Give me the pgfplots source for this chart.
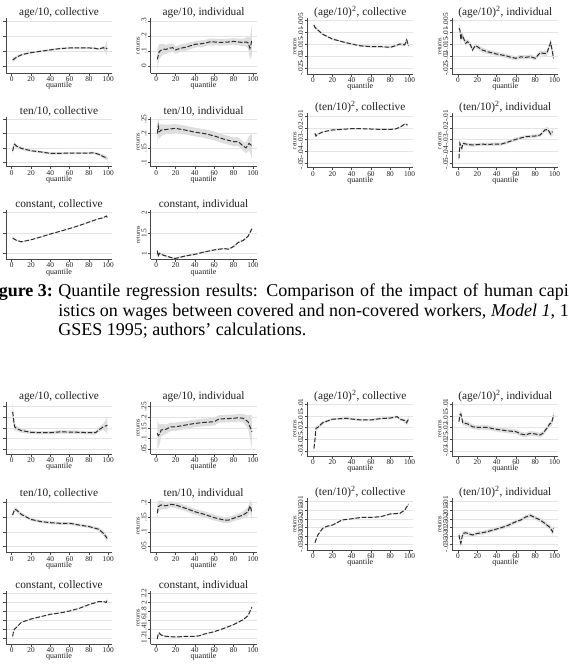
\documentclass[border=0pt]{standalone}
\usepackage{fontspec}
\setmainfont{Liberation Serif}
\usepackage{pgfplots}
\usepackage{pgfplotstable}
\pgfplotsset{compat=1.18}
\usepgfplotslibrary{fillbetween}
\definecolor{axcol}{RGB}{70,70,70}
\definecolor{gridcol}{RGB}{228,228,228}
\definecolor{cicol}{RGB}{222,222,222}
\definecolor{lncol}{RGB}{45,45,45}
\definecolor{txtcol}{RGB}{30,30,30}

\pgfplotstableread{
q y w
1 .040 .015
2 .044 .013
5 .058 .01
10 .074 .008
15 .082 .007
20 .089 .007
30 .098 .006
40 .107 .006
50 .116 .006
60 .120 .006
70 .120 .006
80 .120 .006
85 .119 .006
90 .113 .007
95 .122 .01
97 .113 .02
98 .118 .05
99 .116 .02
}\Aone
\pgfplotstableread{
q y w
1 .044 .07
2 .070 .06
3 .095 .05
5 .105 .04
8 .112 .035
10 .110 .03
13 .118 .03
17 .122 .028
20 .107 .025
25 .118 .025
30 .124 .025
40 .144 .022
50 .151 .022
55 .160 .022
60 .160 .022
65 .158 .022
70 .158 .022
75 .160 .022
80 .164 .022
85 .160 .022
90 .156 .025
93 .160 .03
95 .155 .04
97 .118 .07
98 .140 .09
99 .178 .1
}\Atwo
\pgfplotstableread{
q y w
1 -.0068 .0008
2 -.0078 .0006
5 -.0089 .0005
10 -.0107 .0004
20 -.0127 .0004
30 -.0138 .0004
40 -.0148 .0004
50 -.0156 .0004
60 -.0159 .0004
70 -.0159 .0004
80 -.0162 .0004
85 -.0156 .0005
90 -.0148 .0005
95 -.0152 .0007
97 -.0131 .001
99 -.0156 .001
}\Athree
\pgfplotstableread{
q y w
1 -.0082 .002
2 -.0089 .002
3 -.0131 .0018
4 -.0110 .0015
5 -.0117 .0013
8 -.0145 .0012
10 -.0138 .0011
13 -.0152 .001
15 -.0173 .001
18 -.0155 .001
20 -.0159 .001
25 -.0173 .001
30 -.0180 .0009
40 -.0190 .0009
50 -.0198 .0009
55 -.0204 .0009
60 -.0208 .0009
65 -.0202 .0009
70 -.0204 .0009
75 -.0201 .0009
80 -.0208 .0009
85 -.0185 .001
88 -.0187 .001
92 -.0187 .0012
96 -.0142 .0015
99 -.0208 .002
}\Afour
\pgfplotstableread{
q y w
1 .140 .012
2 .155 .01
3 .163 .008
5 .157 .006
10 .149 .005
20 .141 .004
30 .137 .004
40 .132 .004
50 .132 .004
60 .133 .004
70 .133 .004
80 .133 .004
85 .134 .004
90 .129 .005
95 .121 .006
99 .115 .008
}\Tone
\pgfplotstableread{
q y w
1 .200 .035
2 .226 .03
3 .206 .025
5 .212 .02
10 .214 .016
20 .218 .015
30 .212 .015
40 .205 .015
50 .200 .015
60 .192 .015
70 .181 .015
80 .172 .015
85 .172 .015
90 .157 .016
93 .151 .018
96 .166 .025
98 .161 .035
99 .158 .045
}\Ttwo
\pgfplotstableread{
q y w
2 -.0246 .0012
3 -.0269 .001
5 -.0255 .0008
10 -.0235 .0006
20 -.0218 .0005
30 -.0213 .0005
40 -.0207 .0005
50 -.0207 .0005
60 -.0210 .0005
70 -.0213 .0005
80 -.0213 .0005
85 -.0210 .0005
90 -.0196 .0006
95 -.0168 .0008
98 -.0176 .001
}\Tthree
\pgfplotstableread{
q y w
1 -.0458 .004
2 -.0331 .003
3 -.0359 .0025
4 -.0373 .002
5 -.0331 .0018
10 -.0340 .0015
15 -.0345 .0014
20 -.0342 .0014
25 -.0338 .0014
30 -.0340 .0014
40 -.0337 .0014
45 -.0337 .0014
50 -.0325 .0014
60 -.0297 .0014
70 -.0275 .0014
80 -.0269 .0014
85 -.0261 .0015
90 -.0218 .0017
93 -.0213 .002
96 -.0252 .0025
98 -.0232 .003
}\Tfour
\pgfplotstableread{
q y w
1 1.375 .02
5 1.317 .015
10 1.283 .012
20 1.333 .01
30 1.400 .01
40 1.475 .01
50 1.540 .01
60 1.610 .01
70 1.683 .01
80 1.767 .01
90 1.850 .012
95 1.875 .015
98 1.917 .02
99 1.883 .025
}\Kone
\pgfplotstableread{
q y w
1 1.067 .05
2 .917 .04
3 1.000 .035
5 .975 .03
10 .933 .025
18 .875 .02
20 .875 .02
30 .933 .02
40 .975 .02
50 1.033 .02
60 1.083 .02
70 1.117 .02
75 1.100 .02
80 1.167 .02
85 1.267 .022
90 1.317 .025
95 1.417 .03
99 1.600 .04
}\Ktwo
\pgfplotstableread{
q y w
1 .226 .05
2 .187 .03
3 .155 .02
5 .147 .012
10 .137 .01
20 .129 .008
30 .127 .008
40 .127 .008
50 .131 .008
60 .130 .008
70 .129 .008
80 .127 .008
87 .127 .009
90 .140 .01
95 .155 .015
98 .160 .03
99 .163 .04
}\Bone
\pgfplotstableread{
q y w
1 .124 .07
2 .113 .06
4 .124 .04
5 .140 .03
10 .143 .022
15 .155 .02
20 .155 .02
30 .163 .018
40 .171 .018
50 .176 .018
60 .179 .018
65 .192 .018
70 .193 .018
80 .195 .018
85 .198 .018
90 .195 .02
95 .179 .03
99 .132 .08
}\Btwo
\pgfplotstableread{
q y w
1 -.0289 .002
2 -.0253 .0015
3 -.0203 .001
5 -.0199 .0008
10 -.0179 .0006
20 -.0164 .0005
30 -.0161 .0005
35 -.0160 .0005
40 -.0163 .0005
50 -.0167 .0005
60 -.0167 .0005
70 -.0161 .0005
80 -.0159 .0005
87 -.0153 .0005
90 -.0163 .0006
95 -.0170 .0008
97 -.0179 .001
99 -.0163 .0012
}\Bthree
\pgfplotstableread{
q y w
1 -.0174 .0015
2 -.0146 .0014
3 -.0141 .0013
5 -.0179 .0011
10 -.0184 .001
15 -.0196 .001
20 -.0199 .001
30 -.0199 .001
40 -.0207 .001
50 -.0213 .001
60 -.0217 .001
65 -.0227 .001
70 -.0231 .001
75 -.0224 .001
80 -.0227 .001
85 -.0231 .001
88 -.0224 .001
92 -.0203 .0011
95 -.0184 .0012
97 -.0179 .0014
99 -.0146 .0018
}\Bfour
\pgfplotstableread{
q y w
1 .157 .01
3 .176 .008
5 .174 .007
10 .159 .006
20 .142 .005
30 .135 .005
40 .131 .005
50 .129 .005
60 .129 .005
70 .123 .005
80 .118 .005
90 .109 .006
95 .095 .008
99 .078 .012
}\Done
\pgfplotstableread{
q y w
1 .163 .03
2 .185 .02
5 .191 .015
10 .188 .012
15 .193 .01
20 .191 .01
30 .180 .01
40 .168 .01
50 .159 .01
60 .148 .01
70 .140 .01
75 .140 .01
80 .146 .01
90 .157 .012
95 .168 .015
97 .188 .02
99 .168 .03
}\Dtwo
\pgfplotstableread{
q y w
2 -.0340 .0006
5 -.0295 .0005
10 -.0256 .0004
15 -.0243 .0004
20 -.0237 .0004
25 -.0223 .0004
30 -.0207 .0004
40 -.0200 .0004
50 -.0192 .0004
60 -.0192 .0004
70 -.0188 .0004
80 -.0172 .0004
90 -.0168 .0004
95 -.0149 .0005
99 -.0114 .0007
}\Dthree
\pgfplotstableread{
q y w
1 -.0295 .003
2 -.0325 .0025
3 -.0344 .002
5 -.0286 .0015
8 -.0282 .0013
10 -.0286 .0012
15 -.0295 .0011
20 -.0286 .0011
25 -.0282 .0011
30 -.0276 .0011
40 -.0260 .0011
50 -.0243 .0011
60 -.0217 .0011
65 -.0207 .0011
70 -.0190 .0011
75 -.0180 .0012
80 -.0194 .0012
85 -.0207 .0012
90 -.0227 .0013
95 -.0250 .0015
98 -.0276 .002
99 -.0256 .0025
}\Dfour
\pgfplotstableread{
q y w
1 1.251 .03
2 1.376 .025
3 1.413 .02
5 1.450 .015
10 1.560 .012
20 1.634 .01
30 1.685 .01
40 1.737 .01
50 1.766 .01
60 1.810 .01
70 1.869 .01
80 1.950 .01
90 2.016 .012
95 2.016 .015
98 2.000 .02
99 2.075 .03
}\Eone
\pgfplotstableread{
q y w
1 1.193 .04
2 1.303 .03
3 1.325 .025
5 1.281 .02
10 1.251 .015
20 1.237 .012
30 1.251 .012
40 1.251 .012
45 1.266 .012
50 1.303 .012
60 1.354 .012
70 1.428 .012
80 1.509 .014
90 1.619 .016
95 1.707 .02
99 1.891 .03
}\Etwo

\newcommand{\ciplot}[2]{%
  \addplot[draw=none, name path=u#2, forget plot] table[x=q, y expr=\thisrow{y}+\thisrow{w}] {#1};
  \addplot[draw=none, name path=l#2, forget plot] table[x=q, y expr=\thisrow{y}-\thisrow{w}] {#1};
  \addplot[fill=cicol, draw=none, forget plot] fill between[of=u#2 and l#2];
  \addplot[lncol, line width=0.75pt, dash pattern=on 3.4pt off 1.4pt] table[x=q, y=y] {#1};
}

\pgfplotsset{
  every axis title shift=0pt,
  panel/.style={
    scale only axis, width=79.65pt, anchor=north west,
    xmin=-6, xmax=104,
    axis lines=left,
    axis line style={-, draw=axcol, line width=0.45pt},
    xtick={0,20,40,60,80,100}, xticklabels={0,20,40,60,80,100},
    scaled y ticks=false, scaled x ticks=false,
    tick align=outside, major tick length=2pt,
    tick style={draw=axcol, line width=0.4pt},
    ymajorgrids, grid style={gridcol, line width=0.4pt},
    ticklabel style={font=\fontsize{5.5}{6}\selectfont, text=txtcol},
    xticklabel style={inner sep=0.6pt},
    yticklabel style={rotate=90, anchor=south, inner sep=0.8pt},
    xlabel={quantile},
    xlabel style={font=\fontsize{6}{6.5}\selectfont, text=txtcol, inner sep=0pt, yshift=0.3pt},
    ylabel={returns},
    ylabel style={font=\fontsize{4.6}{5}\selectfont, text=txtcol, inner sep=0.3pt},
    title style={font=\fontsize{8.5}{9}\selectfont, text=txtcol, inner sep=0pt,
                 at={(0.5,1)}, anchor=base, yshift=2pt},
  },
  leftpanel/.style={panel, yticklabels={}, ylabel={}},
}

\begin{document}
\begin{tikzpicture}

% ---------------- Top group ----------------
% Row 1
\begin{axis}[leftpanel, at={(4.425pt,487.5pt)}, height=41.25pt,
  ymin=-0.047, ymax=0.32, ytick={0,0.1,0.2,0.3},
  title={age/10, collective}]
\ciplot{\Aone}{a1}
\end{axis}
\begin{axis}[panel, at={(112.875pt,487.5pt)}, height=41.25pt,
  ymin=-0.047, ymax=0.32, ytick={0,0.1,0.2,0.3}, yticklabels={0,.1,.2,.3},
  title={age/10, individual}]
\ciplot{\Atwo}{a2}
\end{axis}
\begin{axis}[panel, at={(230.4pt,487.275pt)}, height=41.775pt,
  ymin=-0.0274, ymax=-0.004, ytick={-0.025,-0.02,-0.015,-0.01,-0.005},
  yticklabels={-.025,-.02,-.015,-.01,-.005},
  title={(age/10)\textsuperscript{2}, collective}]
\ciplot{\Athree}{a3}
\end{axis}
\begin{axis}[panel, at={(339.15pt,487.275pt)}, height=41.775pt,
  ymin=-0.0274, ymax=-0.004, ytick={-0.025,-0.02,-0.015,-0.01,-0.005},
  yticklabels={-.025,-.02,-.015,-.01,-.005},
  title={(age/10)\textsuperscript{2}, individual}]
\ciplot{\Afour}{a4}
\end{axis}
% Row 2
\begin{axis}[leftpanel, at={(4.425pt,413.475pt)}, height=37.5pt,
  ymin=0.0862, ymax=0.258, ytick={0.1,0.15,0.2,0.25},
  title={ten/10, collective}]
\ciplot{\Tone}{t1}
\end{axis}
\begin{axis}[panel, at={(112.875pt,413.475pt)}, height=37.5pt,
  ymin=0.0862, ymax=0.258, ytick={0.1,0.15,0.2,0.25}, yticklabels={.1,.15,.2,.25},
  title={ten/10, individual}]
\ciplot{\Ttwo}{t2}
\end{axis}
\begin{axis}[panel, at={(230.4pt,416.025pt)}, height=40.8pt,
  ymin=-0.0537, ymax=-0.0077, ytick={-0.05,-0.04,-0.03,-0.02,-0.01},
  yticklabels={-.05,-.04,-.03,-.02,-.01},
  title={(ten/10)\textsuperscript{2}, collective}]
\ciplot{\Tthree}{t3}
\end{axis}
\begin{axis}[panel, at={(339.15pt,416.025pt)}, height=40.8pt,
  ymin=-0.0537, ymax=-0.0077, ytick={-0.05,-0.04,-0.03,-0.02,-0.01},
  yticklabels={-.05,-.04,-.03,-.02,-.01},
  title={(ten/10)\textsuperscript{2}, individual}]
\ciplot{\Tfour}{t4}
\end{axis}
% Row 3
\begin{axis}[leftpanel, at={(4.425pt,343.5pt)}, height=36.975pt,
  ymin=0.852, ymax=2.066, ytick={1,1.5,2},
  title={constant, collective}]
\ciplot{\Kone}{k1}
\end{axis}
\begin{axis}[panel, at={(112.875pt,343.5pt)}, height=36.975pt,
  ymin=0.852, ymax=2.066, ytick={1,1.5,2}, yticklabels={1,1.5,2},
  title={constant, individual}]
\ciplot{\Ktwo}{k2}
\end{axis}

% ---------------- Caption ----------------
\node[anchor=base east, inner sep=0pt, font=\fontsize{13.5}{16}\selectfont] at (39.9pt,278.25pt) {\textbf{Figure 3:}};
\node[anchor=base west, inner sep=0pt, font=\fontsize{13.5}{16}\selectfont] at (43.5pt,278.25pt)
  {\makebox[383pt][s]{Quantile regression results: Comparison of the impact of human capi}};
\node[anchor=base west, inner sep=0pt, font=\fontsize{13.5}{16}\selectfont] at (43.5pt,263.625pt)
  {\makebox[383pt][s]{istics on wages between covered and non-covered workers, \textit{Model 1}, 1}};
\node[anchor=base west, inner sep=0pt, font=\fontsize{13.5}{16}\selectfont] at (43.5pt,249pt)
  {GSES 1995; authors’ calculations.};

% ---------------- Bottom group ----------------
% Row 1
\begin{axis}[leftpanel, at={(4.425pt,199.725pt)}, height=39.225pt,
  ymin=0.0264, ymax=0.2736, ytick={0.05,0.1,0.15,0.2,0.25},
  title={age/10, collective}]
\ciplot{\Bone}{b1}
\end{axis}
\begin{axis}[panel, at={(112.875pt,199.725pt)}, height=39.225pt,
  ymin=0.0264, ymax=0.2736, ytick={0.05,0.1,0.15,0.2,0.25}, yticklabels={.05,.1,.15,.2,.25},
  title={age/10, individual}]
\ciplot{\Btwo}{b2}
\end{axis}
\begin{axis}[panel, at={(230.4pt,199.725pt)}, height=40.725pt,
  ymin=-0.0321, ymax=-0.0089, ytick={-0.03,-0.025,-0.02,-0.015,-0.01},
  yticklabels={-.03,-.025,-.02,-.015,-.01},
  title={(age/10)\textsuperscript{2}, collective}]
\ciplot{\Bthree}{b3}
\end{axis}
\begin{axis}[panel, at={(339.15pt,199.725pt)}, height=40.725pt,
  ymin=-0.0321, ymax=-0.0089, ytick={-0.03,-0.025,-0.02,-0.015,-0.01},
  yticklabels={-.03,-.025,-.02,-.015,-.01},
  title={(age/10)\textsuperscript{2}, individual}]
\ciplot{\Bfour}{b4}
\end{axis}
% Row 2
\begin{axis}[leftpanel, at={(4.425pt,126.525pt)}, height=40.05pt,
  ymin=0.0297, ymax=0.21, ytick={0.05,0.1,0.15,0.2},
  title={ten/10, collective}]
\ciplot{\Done}{d1}
\end{axis}
\begin{axis}[panel, at={(112.875pt,126.525pt)}, height=40.05pt,
  ymin=0.0297, ymax=0.21, ytick={0.05,0.1,0.15,0.2}, yticklabels={.05,.1,.15,.2},
  title={ten/10, individual}]
\ciplot{\Dtwo}{d2}
\end{axis}
\begin{axis}[panel, at={(230.4pt,127.275pt)}, height=38.775pt,
  ymin=-0.0383, ymax=-0.008, ytick={-0.035,-0.03,-0.025,-0.02,-0.015,-0.01},
  yticklabels={-.035,-.03,-.025,-.02,-.015,-.01},
  title={(ten/10)\textsuperscript{2}, collective}]
\ciplot{\Dthree}{d3}
\end{axis}
\begin{axis}[panel, at={(339.15pt,127.275pt)}, height=38.775pt,
  ymin=-0.0383, ymax=-0.008, ytick={-0.035,-0.03,-0.025,-0.02,-0.015,-0.01},
  yticklabels={-.035,-.03,-.025,-.02,-.015,-.01},
  title={(ten/10)\textsuperscript{2}, individual}]
\ciplot{\Dfour}{d4}
\end{axis}
% Row 3
\begin{axis}[leftpanel, at={(4.425pt,57.525pt)}, height=39.525pt,
  ymin=1.083, ymax=2.244, ytick={1.2,1.4,1.6,1.8,2,2.2},
  title={constant, collective}]
\ciplot{\Eone}{e1}
\end{axis}
\begin{axis}[panel, at={(112.875pt,57.525pt)}, height=39.525pt,
  ymin=1.083, ymax=2.244, ytick={1.2,1.4,1.6,1.8,2,2.2}, yticklabels={1.2,1.4,1.6,1.8,2,2.2},
  title={constant, individual}]
\ciplot{\Etwo}{e2}
\end{axis}

\pgfresetboundingbox
\path (0,0) rectangle (426pt,501pt);
\end{tikzpicture}
\end{document}
